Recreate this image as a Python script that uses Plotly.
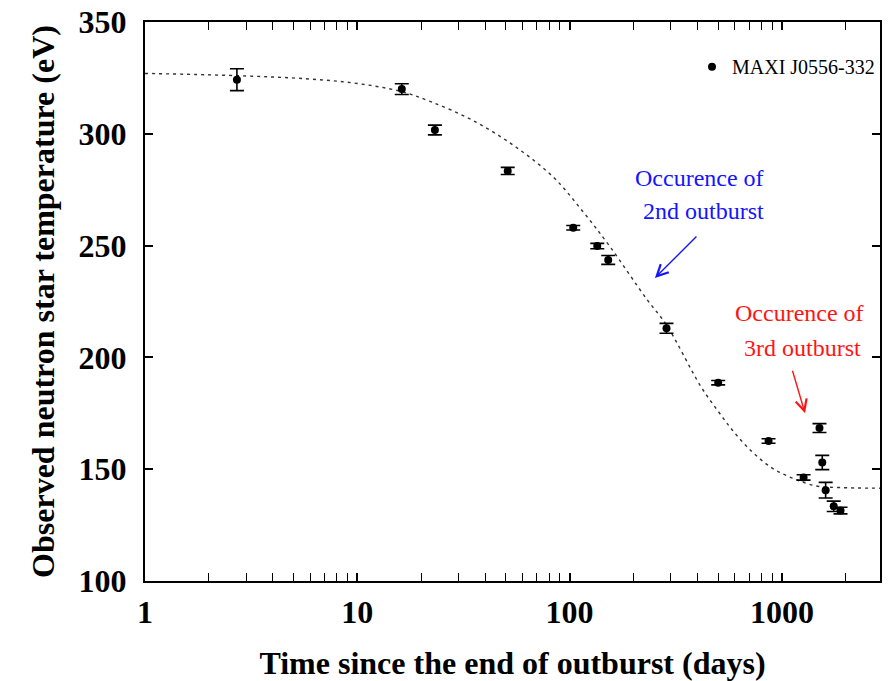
import plotly.graph_objects as go

# observed points (days since end of outburst, temperature in eV, 1-sigma error)
days = [2.71, 16.2, 23.2, 51.1, 104, 135, 152, 286, 501, 865, 1265, 1503, 1549, 1607, 1754, 1888]
temp = [324.2, 320.0, 301.7, 283.4, 258.0, 249.8, 243.6, 213.0, 188.7, 162.6, 146.3, 168.4, 153.0, 140.6, 133.4, 131.5]
temp_err = [4.9, 2.4, 2.2, 1.6, 1.0, 1.2, 2.0, 2.2, 1.0, 1.0, 1.2, 2.0, 3.2, 3.5, 2.3, 1.5]

# cooling curve (dashed)
curve_days = [1, 2.7, 6, 10, 16, 22, 35, 56, 84, 116, 155, 231, 286, 415, 500, 590, 720, 900, 1120, 1450, 1870, 2900]
curve_temp = [327, 326, 324.5, 322.5, 319.0, 314.5, 306, 294, 280.5, 265, 249.5, 226, 214.5, 187, 176, 167, 158, 150.5, 146, 142.5, 141.8, 141.5]

x_ticks = [1, 10, 100, 1000]
y_ticks = [100, 150, 200, 250, 300, 350]

serif = "Liberation Serif"

fig = go.Figure()

fig.add_trace(go.Scatter(
    x=curve_days, y=curve_temp, mode="lines",
    line=dict(color="#333333", width=1.4, dash="3px,4px", shape="spline", smoothing=1.0),
    showlegend=False, hoverinfo="skip"))

fig.add_trace(go.Scatter(
    x=days, y=temp, mode="markers", name="MAXI J0556-332",
    marker=dict(symbol="circle", size=8, color="black"),
    error_y=dict(type="data", array=temp_err, color="black", thickness=1.6, width=7)))

axis_common = dict(
    showline=True, linecolor="black", linewidth=2, mirror="ticks",
    ticks="inside", ticklen=8, tickwidth=1.5, tickcolor="black",
    showgrid=False, zeroline=False, automargin=False,
    ticklabeloverflow="allow",
    tickfont=dict(family=serif, size=32, color="black", weight="bold"),
)

fig.update_xaxes(
    type="log", range=[0, 3.462],
    tickvals=x_ticks, ticktext=[str(v) for v in x_ticks],
    minor=dict(ticks="inside", ticklen=8, tickwidth=1.2, tickcolor="black", dtick="D1", showgrid=False),
    ticklabelstandoff=2,
    title=dict(text="Time since the end of outburst (days)",
               font=dict(family=serif, size=32, color="black", weight="bold"), standoff=22),
    **axis_common)

fig.update_yaxes(
    range=[100, 350], tickvals=y_ticks,
    ticklabelstandoff=10,
    title=dict(text="Observed neutron star temperature (eV)",
               font=dict(family=serif, size=32, color="black", weight="bold"), standoff=14),
    **axis_common)

# annotations for the outbursts
blue = "#1414ff"
red = "#ff1414"
ann_font = 24
fig.add_annotation(x=2.614, y=280.2, text="Occurence of", showarrow=False,
                   font=dict(family=serif, size=ann_font, color=blue))
fig.add_annotation(x=2.632, y=265.5, text="2nd outburst", showarrow=False,
                   font=dict(family=serif, size=ann_font, color=blue))
fig.add_annotation(x=2.402, y=235.5, text="", showarrow=True, ax=43, ay=-43,
                   arrowhead=5, arrowsize=1.6, arrowwidth=1.4, arrowcolor=blue)

fig.add_annotation(x=3.085, y=219.9, text="Occurence of", showarrow=False,
                   font=dict(family=serif, size=ann_font, color=red))
fig.add_annotation(x=3.099, y=204.2, text="3rd outburst", showarrow=False,
                   font=dict(family=serif, size=ann_font, color=red))
fig.add_annotation(x=3.109, y=175.0, text="", showarrow=True, ax=-13, ay=-44,
                   arrowhead=5, arrowsize=1.6, arrowwidth=1.4, arrowcolor=red)

# page body adds an 8px offset, so the figure is 8px smaller and margins shifted
fig.update_layout(
    width=886, height=673,
    margin=dict(l=137, r=14, t=14, b=100),
    plot_bgcolor="white", paper_bgcolor="white",
    legend=dict(x=1.0, y=0.955, xanchor="right", yanchor="top",
                bgcolor="rgba(0,0,0,0)", itemwidth=30,
                font=dict(family=serif, size=20, color="black")),
)

fig.write_html("out.html")
